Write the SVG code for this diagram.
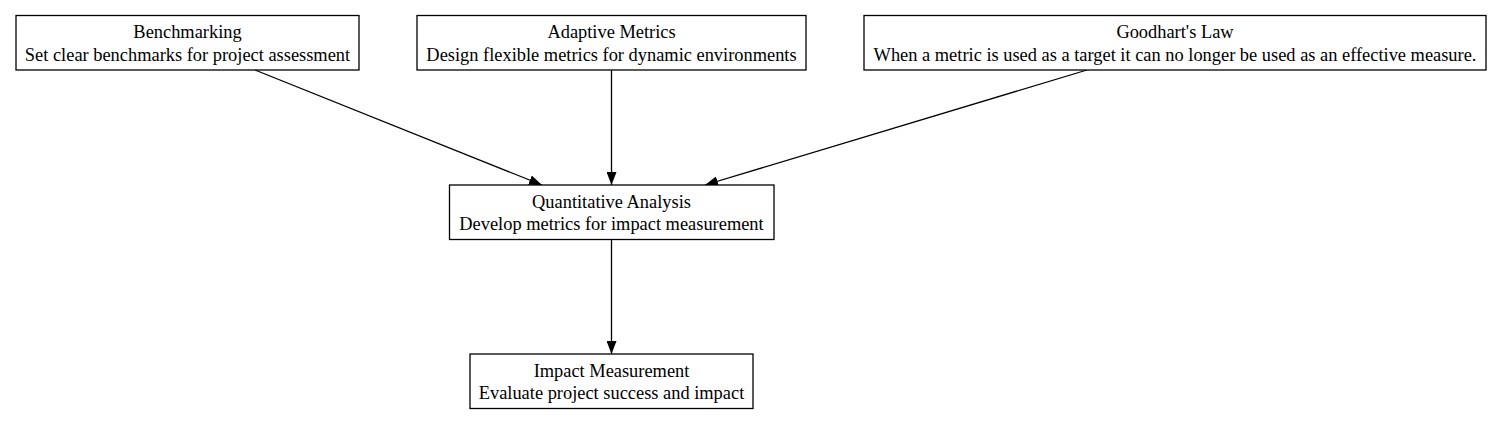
<svg xmlns="http://www.w3.org/2000/svg" width="1504" height="425" viewBox="0 0 1504 425">
<style>
.box{fill:#fff;stroke:#000;stroke-width:1.3}
.t{font-family:"Liberation Serif","Times New Roman",serif;font-size:18.4px;fill:#000;text-anchor:middle}
.e{stroke:#000;stroke-width:1.3;fill:none;marker-end:url(#ah)}
</style>
<defs>
<marker id="ah" viewBox="0 0 13 10" refX="13" refY="5" markerWidth="13" markerHeight="10" markerUnits="userSpaceOnUse" orient="auto">
<path d="M0,0 L13,5 L0,10 Z" fill="#000"/>
</marker>
</defs>
<rect width="1504" height="425" fill="#fff"/>
<g id="connectors">
<path class="e" d="M255,70 L542,185"/>
<path class="e" d="M611.5,70 L611.5,185"/>
<path class="e" d="M1087,70 L705,185"/>
<path class="e" d="M611.5,239.5 L611.5,354"/>
</g>
<g id="benchmarking">
<rect class="box" x="16" y="15.5" width="343" height="54.5"/>
<text class="t" x="187.5" y="38">Benchmarking</text>
<text class="t" x="187.5" y="60.5">Set clear benchmarks for project assessment</text>
</g>
<g id="adaptive-metrics">
<rect class="box" x="417" y="15.5" width="389" height="54.5"/>
<text class="t" x="611.5" y="38">Adaptive Metrics</text>
<text class="t" x="611.5" y="60.5">Design flexible metrics for dynamic environments</text>
</g>
<g id="goodharts-law">
<rect class="box" x="864" y="15.5" width="622" height="54.5"/>
<text class="t" x="1175" y="38">Goodhart's Law</text>
<text class="t" x="1175" y="60.5">When a metric is used as a target it can no longer be used as an effective measure.</text>
</g>
<g id="quantitative-analysis">
<rect class="box" x="449.5" y="185" width="324.5" height="54.5"/>
<text class="t" x="611.5" y="207.5">Quantitative Analysis</text>
<text class="t" x="611.5" y="230">Develop metrics for impact measurement</text>
</g>
<g id="impact-measurement">
<rect class="box" x="470" y="354" width="283" height="54.5"/>
<text class="t" x="611.5" y="376.5">Impact Measurement</text>
<text class="t" x="611.5" y="399">Evaluate project success and impact</text>
</g>
</svg>
